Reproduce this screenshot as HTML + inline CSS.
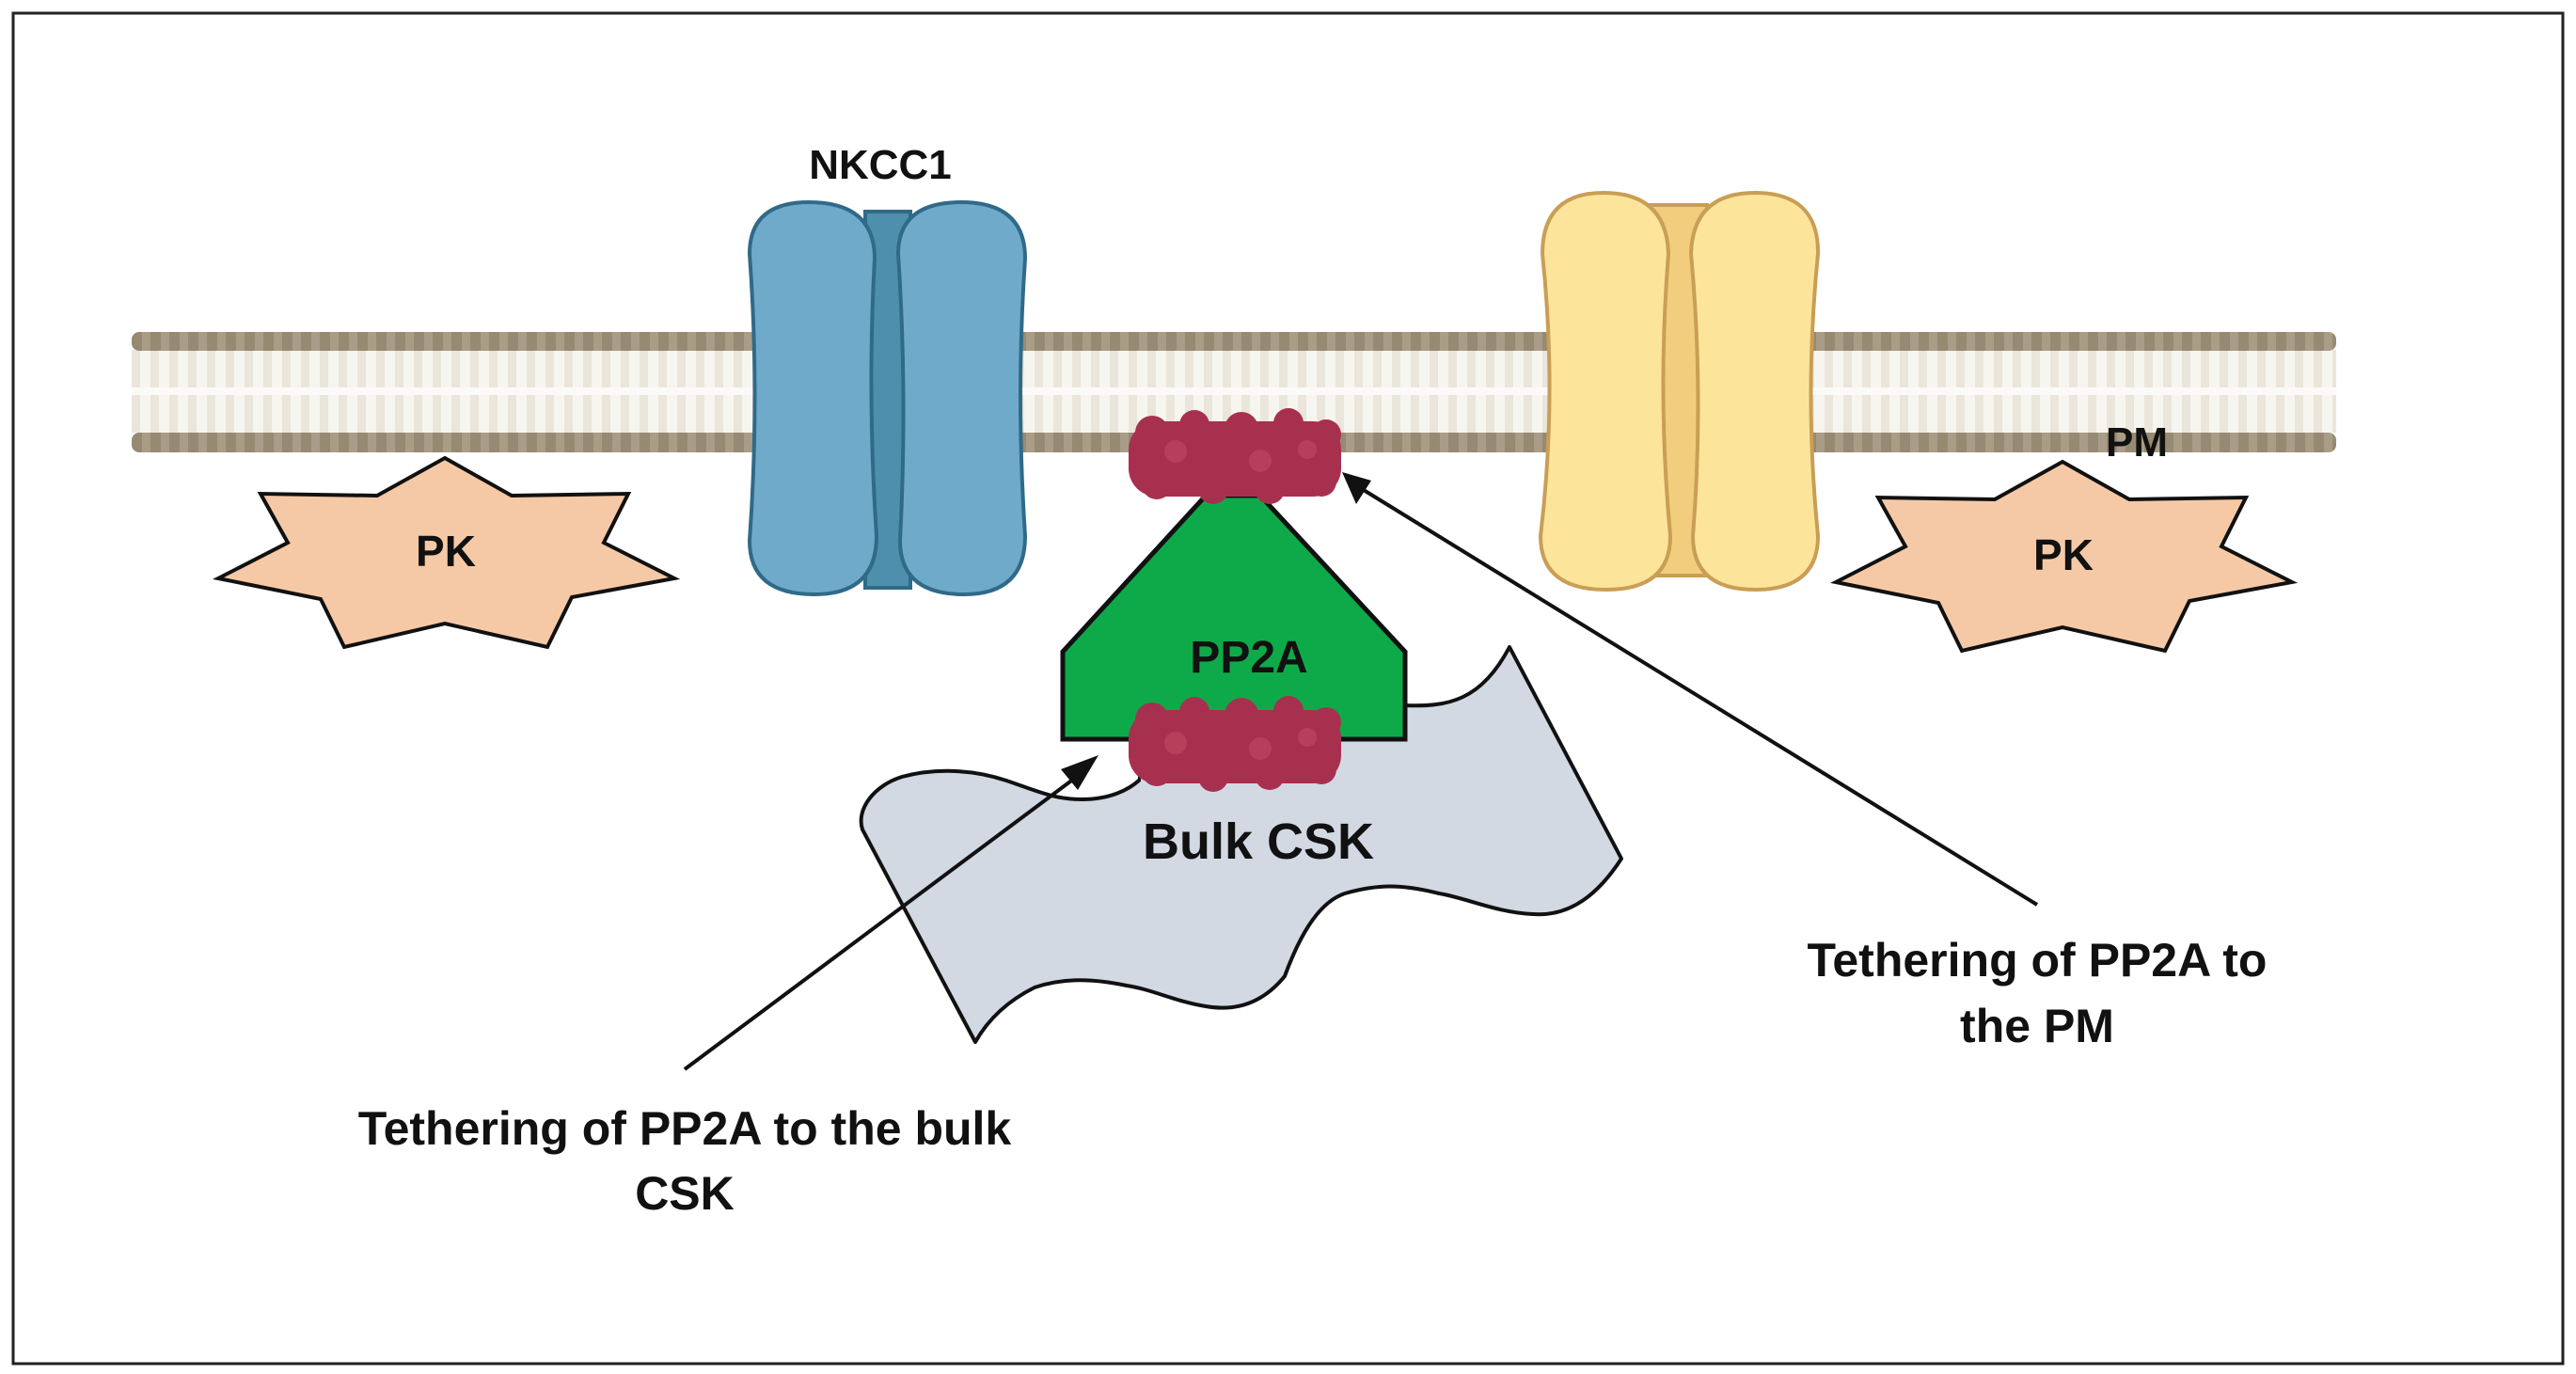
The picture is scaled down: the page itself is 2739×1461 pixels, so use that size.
<!DOCTYPE html>
<html><head><meta charset="utf-8"><style>
html,body{margin:0;padding:0;background:#fff}
svg{display:block}
text{font-family:"Liberation Sans",sans-serif;font-weight:bold;fill:#111}
</style></head><body>
<svg width="2739" height="1461" viewBox="0 0 2739 1461" xmlns="http://www.w3.org/2000/svg">
<defs>
<pattern id="stripe" x="0" y="0" width="20" height="10" patternUnits="userSpaceOnUse">
<rect width="20" height="10" fill="#f7f5f0"/><rect x="0" width="9" height="10" fill="#ebe6dc"/>
</pattern>
<pattern id="band" x="0" y="0" width="20" height="10" patternUnits="userSpaceOnUse">
<rect width="20" height="10" fill="#a99d88"/><rect x="0" width="11" height="10" fill="#968a72"/>
</pattern>
</defs>
<rect x="14" y="14" width="2711" height="1436" fill="#fff" stroke="#222" stroke-width="3"/>
<!-- membrane -->
<rect x="140" y="372" width="2344" height="88" fill="url(#stripe)"/>
<rect x="140" y="412" width="2344" height="8" fill="#fbfaf7"/>
<rect x="140" y="353" width="2344" height="20" rx="8" fill="url(#band)"/>
<rect x="140" y="460" width="2344" height="21" rx="8" fill="url(#band)"/>
<text x="2272" y="485" font-size="44" text-anchor="middle">PM</text>

<!-- NKCC1 -->
<g stroke="#2f6a88" stroke-width="4">
<path d="M920 225 L968 225 L968 625 L920 625 Z" fill="#4f8fae"/>
<path d="M797 270 Q797 215 860 215 Q930 215 930 275 Q922 420 932 570 Q932 632 866 632 Q797 632 797 575 Q808 420 797 270 Z" fill="#70aacb"/>
<path d="M955 270 Q955 215 1022 215 Q1090 215 1090 275 Q1080 420 1090 570 Q1090 632 1025 632 Q957 632 957 575 Q965 420 955 270 Z" fill="#70aacb"/>
</g>
<text x="936" y="190" font-size="44" text-anchor="middle">NKCC1</text>

<!-- yellow channel -->
<g stroke="#c99e55" stroke-width="4">
<path d="M1755 218 L1815 218 L1815 612 L1755 612 Z" fill="#f2cd7d"/>
<path d="M1640 270 Q1640 205 1705 205 Q1772 205 1774 270 Q1762 420 1776 570 Q1776 627 1708 627 Q1638 627 1638 570 Q1656 420 1640 270 Z" fill="#fde49b"/>
<path d="M1798 270 Q1800 205 1866 205 Q1934 205 1933 270 Q1918 420 1933 570 Q1933 627 1866 627 Q1800 627 1800 570 Q1812 420 1798 270 Z" fill="#fde49b"/>
</g>

<!-- PK stars -->
<g id="pk">
<path d="M473 487 L544 527 L668 525 L642 577 L717 615 L608 635 L582 688 L473 663 L366 688 L341 637 L232 615 L306 577 L277 525 L401 527 Z" fill="#f6c9a6" stroke="#111" stroke-width="4" stroke-linejoin="miter"/>
<text x="474" y="602" font-size="46" text-anchor="middle">PK</text>
</g>
<use href="#pk" transform="translate(1720,4)"/>

<!-- Bulk CSK -->
<path d="M1493 750 C1540 752 1575 745 1605 688 L1724 913 C1700 950 1670 975 1630 972 C1590 970 1560 955 1530 950 C1490 940 1465 940 1430 950 C1400 960 1380 1000 1366 1038 C1340 1070 1310 1075 1282 1070 C1250 1065 1225 1052 1198 1048 C1160 1040 1130 1040 1100 1050 C1070 1065 1050 1085 1037 1108 L917 882 C910 860 930 835 959 826 C1000 815 1040 820 1070 830 C1100 840 1120 850 1150 850 C1180 850 1200 840 1212 829 L1212 786 L1493 786 Z" fill="#d3d9e3" stroke="#111" stroke-width="4" stroke-linejoin="round"/>
<rect x="1213" y="788" width="278" height="60" fill="#d3d9e3"/>
<text x="1338" y="913" font-size="54" text-anchor="middle">Bulk CSK</text>

<!-- PP2A -->
<path d="M1282 527 L1340 527 L1494 693 L1494 786 L1130 786 L1130 693 Z" fill="#0eaa4a" stroke="#111" stroke-width="5" stroke-linejoin="miter"/>
<text x="1328" y="715" font-size="48" text-anchor="middle">PP2A</text>

<!-- red blobs -->
<g fill="#a8304f">
<rect x="1200" y="448" width="226" height="80" rx="30"/>
<circle cx="1225" cy="460" r="18"/><circle cx="1270" cy="452" r="16"/><circle cx="1320" cy="456" r="18"/><circle cx="1370" cy="450" r="16"/><circle cx="1410" cy="462" r="16"/>
<circle cx="1230" cy="515" r="16"/><circle cx="1290" cy="520" r="16"/><circle cx="1350" cy="520" r="16"/><circle cx="1405" cy="512" r="16"/>
<rect x="1200" y="755" width="226" height="78" rx="30"/>
<circle cx="1225" cy="765" r="18"/><circle cx="1270" cy="757" r="16"/><circle cx="1320" cy="760" r="18"/><circle cx="1370" cy="756" r="16"/><circle cx="1410" cy="768" r="16"/>
<circle cx="1230" cy="820" r="16"/><circle cx="1290" cy="826" r="16"/><circle cx="1350" cy="824" r="16"/><circle cx="1405" cy="818" r="16"/>
</g>
<g fill="#c24a66" opacity="0.6">
<circle cx="1250" cy="480" r="12"/><circle cx="1340" cy="490" r="12"/><circle cx="1390" cy="478" r="10"/>
<circle cx="1250" cy="790" r="12"/><circle cx="1340" cy="796" r="12"/><circle cx="1390" cy="784" r="10"/>
</g>

<!-- arrows -->
<g stroke="#111" stroke-width="4" fill="#111">
<line x1="728" y1="1137" x2="1150" y2="822"/>
<polygon points="1168,803 1128,818 1146,840" stroke="none"/>
<line x1="2166" y1="962" x2="1445" y2="518"/>
<polygon points="1427,502 1458,511 1442,536" stroke="none"/>
</g>

<text x="728" y="1217" font-size="50" text-anchor="middle">Tethering of PP2A to the bulk</text>
<text x="728" y="1286" font-size="50" text-anchor="middle">CSK</text>
<text x="2166" y="1038" font-size="50" text-anchor="middle">Tethering of PP2A to</text>
<text x="2166" y="1108" font-size="50" text-anchor="middle">the PM</text>
</svg>
</body></html>
